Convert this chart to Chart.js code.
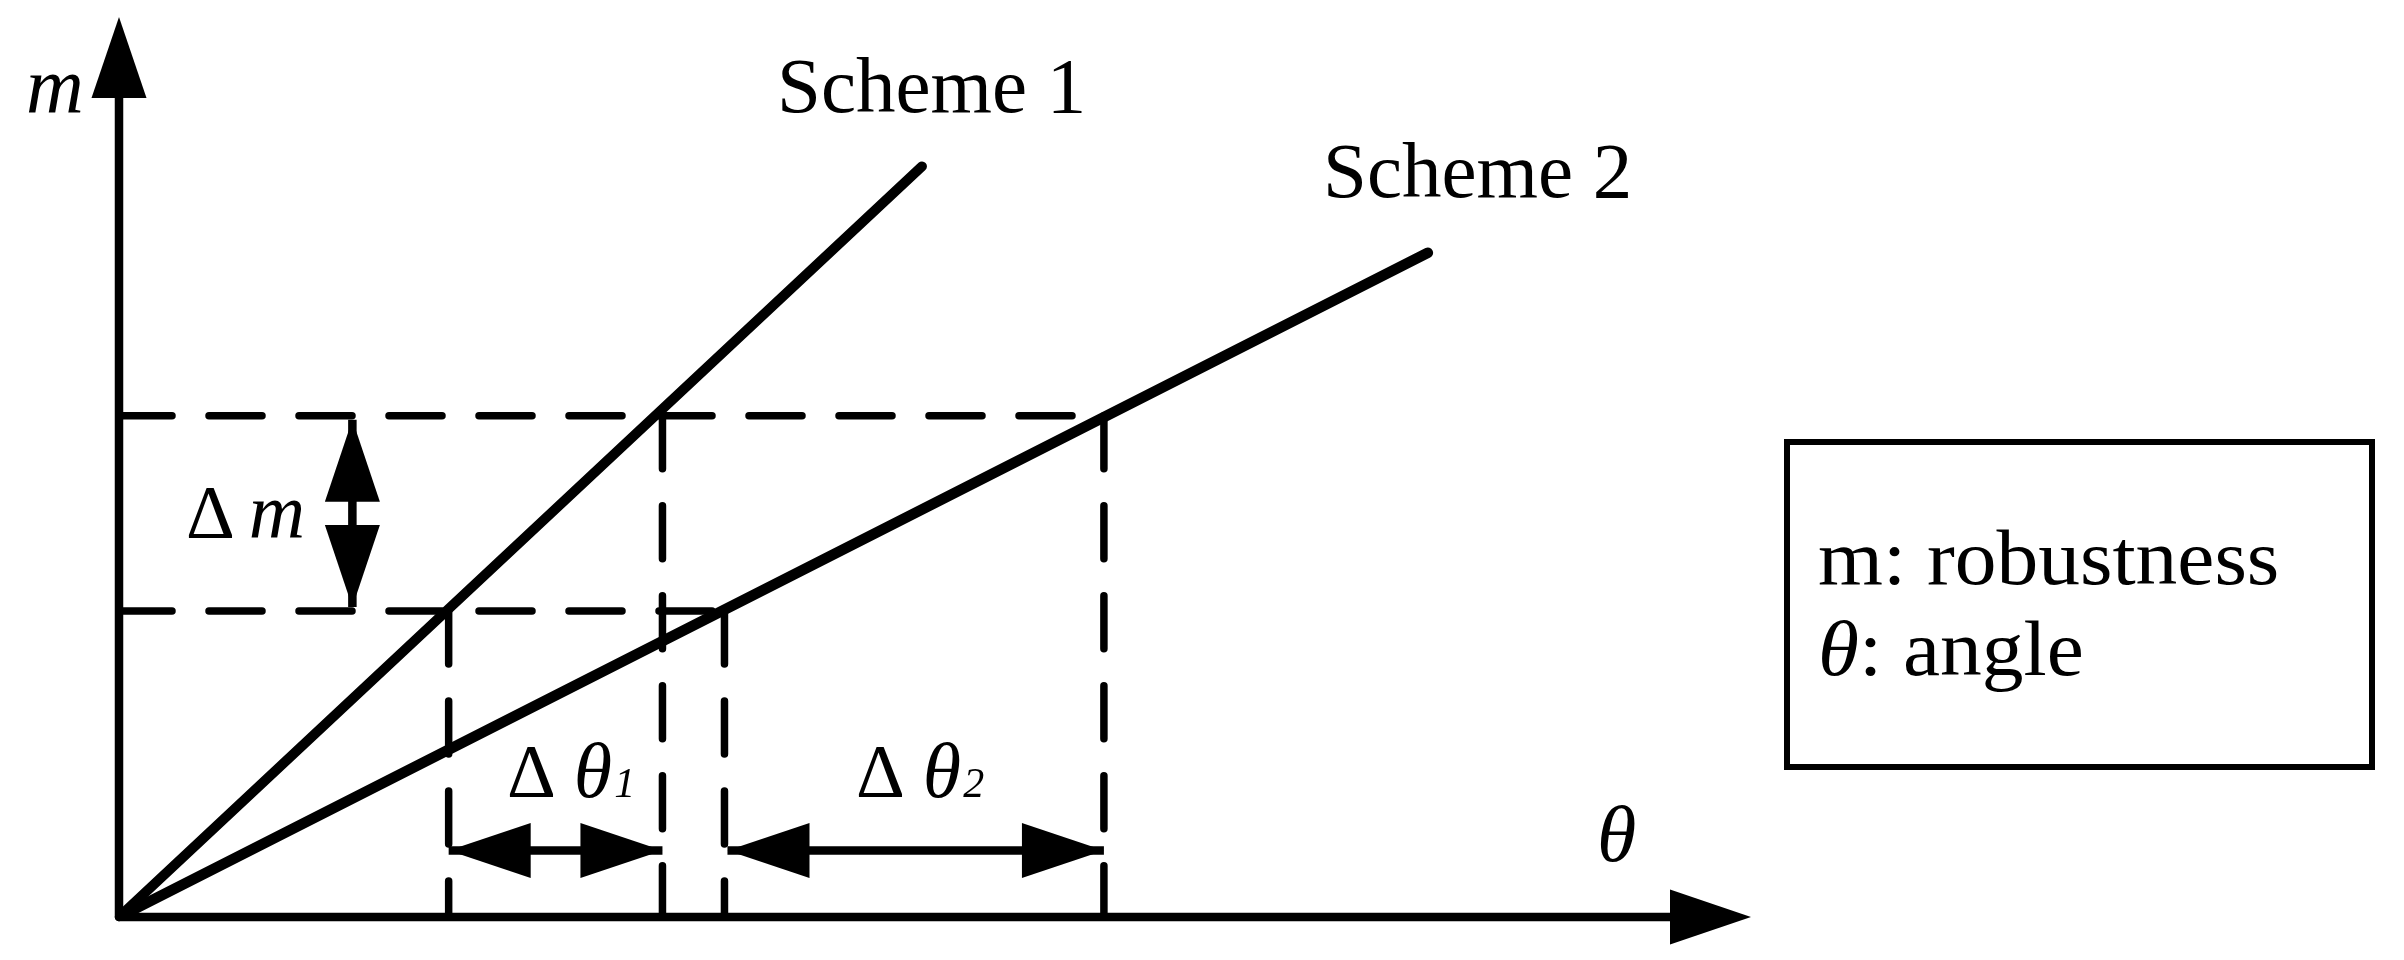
<!DOCTYPE html>
<html>
<head>
<meta charset="utf-8">
<script src="https://cdn.jsdelivr.net/npm/chart.js@4.4.1/dist/chart.umd.min.js"></script>
<style>
html,body{margin:0;padding:0;background:#fff;}
canvas{display:block;}
</style>
</head>
<body>
<canvas id="c" width="2404" height="960"></canvas>
<script>
// ---- data (abstract units) ----
const schemeNames = ['Scheme 1', 'Scheme 2'];
const scheme1Theta = [0, 49.2];
const scheme1M = [0, 83.4];
const scheme2Theta = [0, 80.2];
const scheme2M = [0, 73.8];
const levelM = [34.0, 55.7];          // the two robustness levels (dashed horizontals)
const theta1 = [20.2, 33.3];          // Scheme 1 angle at those levels
const theta2 = [37.1, 60.35];         // Scheme 2 angle at those levels
const deltaThetaArrowM = 7.4;         // height of the Δθ arrows
const deltaMArrowTheta = 14.3;        // position of the Δm arrow
const axisMax = [100, 100];           // θ, m arrow tips
const axisLabels = ['θ', 'm'];
const legendLines = [['m', ': robustness'], ['θ', ': angle']];

const FONT = '"Liberation Serif", "Times New Roman", serif';

function pts(xs, ys) { return xs.map((x, i) => ({ x: x, y: ys[i] })); }

const dashStyle = {
  showLine: true, pointRadius: 0, borderColor: '#000', borderWidth: 7.5,
  borderDash: [53, 37], borderCapStyle: 'round', fill: false
};
const datasets = [
  { label: schemeNames[0], data: pts(scheme1Theta, scheme1M), showLine: true, pointRadius: 0,
    borderColor: '#000', borderWidth: 10, borderCapStyle: 'round', fill: false },
  { label: schemeNames[1], data: pts(scheme2Theta, scheme2M), showLine: true, pointRadius: 0,
    borderColor: '#000', borderWidth: 10.5, borderCapStyle: 'round', fill: false },
  Object.assign({ label: 'level low', data: [{ x: 0, y: levelM[0] }, { x: theta2[0], y: levelM[0] }] }, dashStyle),
  Object.assign({ label: 'level high', data: [{ x: 0, y: levelM[1] }, { x: theta2[1], y: levelM[1] }] }, dashStyle),
  Object.assign({ label: 'v1a', data: [{ x: theta1[0], y: levelM[0] }, { x: theta1[0], y: 0 }] }, dashStyle),
  Object.assign({ label: 'v1b', data: [{ x: theta1[1], y: levelM[1] }, { x: theta1[1], y: 0 }] }, dashStyle),
  Object.assign({ label: 'v2a', data: [{ x: theta2[0], y: levelM[0] }, { x: theta2[0], y: 0 }] }, dashStyle),
  Object.assign({ label: 'v2b', data: [{ x: theta2[1], y: levelM[1] }, { x: theta2[1], y: 0 }] }, dashStyle)
];

function arrowHead(ctx, tx, ty, dx, dy, len, half) {
  const l = Math.hypot(dx, dy); dx /= l; dy /= l;
  const bx = tx - dx * len, by = ty - dy * len;
  ctx.beginPath();
  ctx.moveTo(tx, ty);
  ctx.lineTo(bx - dy * half, by + dx * half);
  ctx.lineTo(bx + dy * half, by - dx * half);
  ctx.closePath();
  ctx.fill();
}
function doubleArrow(ctx, x1, y1, x2, y2) {
  const len = 82, half = 27.5;
  ctx.lineWidth = 8.5; ctx.lineCap = 'butt';
  ctx.beginPath(); ctx.moveTo(x1, y1); ctx.lineTo(x2, y2); ctx.stroke();
  arrowHead(ctx, x1, y1, x1 - x2, y1 - y2, len, half);
  arrowHead(ctx, x2, y2, x2 - x1, y2 - y1, len, half);
}
function rich(ctx, x, y, parts, sx) {
  ctx.save();
  ctx.translate(x, y);
  ctx.scale(sx || 1, 1);
  let cx = 0;
  for (const p of parts) {
    ctx.font = (p.italic ? 'italic ' : '') + (p.size || 78) + 'px ' + FONT;
    cx += (p.dx || 0);
    ctx.fillText(p.t, cx, p.dy || 0);
    cx += ctx.measureText(p.t).width;
  }
  ctx.restore();
}

const decor = {
  id: 'decor',
  afterDatasetsDraw(chart) {
    const ctx = chart.ctx;
    const xs = chart.scales.x, ys = chart.scales.y;
    const X = v => xs.getPixelForValue(v), Y = v => ys.getPixelForValue(v);
    ctx.save();
    ctx.fillStyle = '#000'; ctx.strokeStyle = '#000';
    ctx.textBaseline = 'alphabetic';
    // axes
    const ox = X(0), oy = Y(0);
    const txp = X(axisMax[0]), typ = Y(axisMax[1]);
    ctx.lineWidth = 8.5; ctx.lineCap = 'round';
    ctx.beginPath(); ctx.moveTo(ox, oy); ctx.lineTo(txp - 78, oy); ctx.stroke();
    ctx.beginPath(); ctx.moveTo(ox, oy); ctx.lineTo(ox, typ + 78); ctx.stroke();
    arrowHead(ctx, txp, oy, 1, 0, 81, 27.5);
    arrowHead(ctx, ox, typ, 0, -1, 81, 27.5);
    // Δm arrow
    doubleArrow(ctx, X(deltaMArrowTheta), Y(levelM[1]) + 4, X(deltaMArrowTheta), Y(levelM[0]) - 4);
    // Δθ arrows
    doubleArrow(ctx, X(theta1[0]), Y(deltaThetaArrowM), X(theta1[1]), Y(deltaThetaArrowM));
    doubleArrow(ctx, X(theta2[0]) + 3, Y(deltaThetaArrowM), X(theta2[1]), Y(deltaThetaArrowM));

    // texts
    rich(ctx, 26, 112, [{ t: axisLabels[1], italic: true, size: 80 }]);
    rich(ctx, 1597, 861, [{ t: axisLabels[0], italic: true, size: 80 }]);
    rich(ctx, 777, 112, [{ t: schemeNames[0], size: 79 }]);
    rich(ctx, 1323, 197, [{ t: schemeNames[1], size: 79 }]);
    rich(ctx, 186, 538, [{ t: 'Δ', size: 76 }, { t: 'm', italic: true, size: 78, dx: 14 }]);
    rich(ctx, 507, 797, [{ t: 'Δ', size: 76 }, { t: 'θ', italic: true, size: 78, dx: 18 }, { t: '1', italic: true, size: 42, dx: 2 }]);
    rich(ctx, 856, 797, [{ t: 'Δ', size: 76 }, { t: 'θ', italic: true, size: 78, dx: 18 }, { t: '2', italic: true, size: 42, dx: 2 }]);

    // legend box
    ctx.lineWidth = 6; ctx.lineCap = 'butt'; ctx.lineJoin = 'miter';
    ctx.strokeRect(1787, 442, 2372 - 1787, 767 - 442);
    rich(ctx, 1818, 584, [{ t: legendLines[0][0], size: 78 }, { t: legendLines[0][1], size: 78 }], 1.07);
    rich(ctx, 1818, 675, [{ t: legendLines[1][0], italic: true, size: 78 }, { t: legendLines[1][1], size: 78 }], 1.07);
    ctx.restore();
  }
};

new Chart(document.getElementById('c'), {
  type: 'scatter',
  data: { datasets: datasets },
  options: {
    responsive: false,
    animation: false,
    events: [],
    layout: { padding: { left: 119, right: 2404 - 1751, top: 17, bottom: 960 - 917 } },
    plugins: { legend: { display: false }, tooltip: { enabled: false } },
    scales: {
      x: { type: 'linear', min: 0, max: axisMax[0], display: false },
      y: { type: 'linear', min: 0, max: axisMax[1], display: false }
    }
  },
  plugins: [decor]
});
</script>
</body>
</html>
